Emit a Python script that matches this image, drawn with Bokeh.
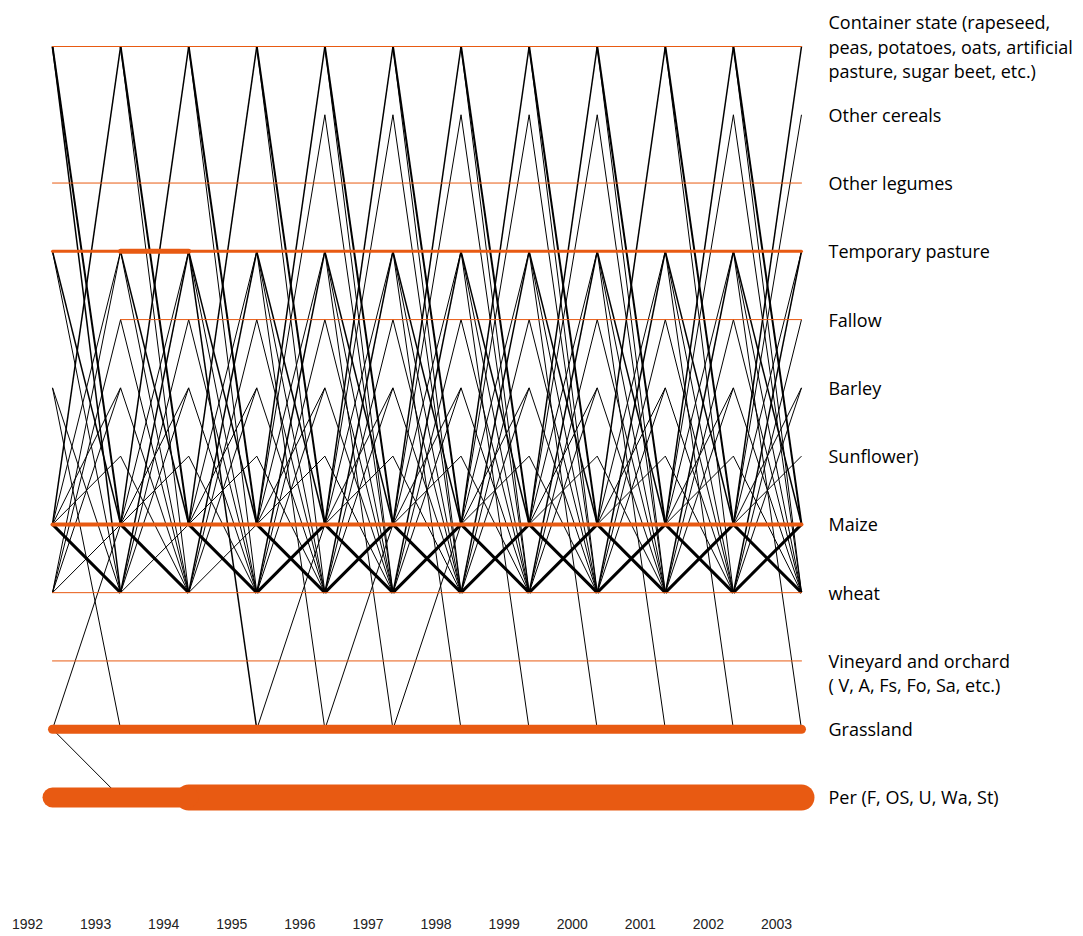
from bokeh.plotting import figure
from bokeh.models import Range1d, ColumnDataSource
from bokeh.core.properties import value
from bokeh.embed import file_html
from bokeh.resources import INLINE

# ---------------- data ----------------
years = [1992, 1993, 1994, 1995, 1996, 1997, 1998, 1999, 2000, 2001, 2002, 2003]
year_labels = ["1992", "1993", "1994", "1995", "1996", "1997", "1998", "1999",
               "2000", "2001", "2002", "2003"]

# land-use states, bottom (0) to top (11)
codes = ["PER", "GRA", "VIN", "WHE", "MAI", "SUN", "BAR", "FAL", "TPA", "OLE", "OCE", "CON"]
cat_labels = [
    "Per (F, OS, U, Wa, St)",
    "Grassland",
    "Vineyard and orchard\n( V, A, Fs, Fo, Sa, etc.)",
    "wheat",
    "Maize",
    "Sunflower)",
    "Barley",
    "Fallow",
    "Temporary pasture",
    "Other legumes",
    "Other cereals",
    "Container state (rapeseed,\npeas, potatoes, oats, artificial\npasture, sugar beet, etc.)",
]
label_anchor = [0, 0, 0, 0, 0, 0, 0, 0, 0, 0, 0, 1]

# persistence (same state from year to next year), line width per interval
stay_PER = [20, 20, 26, 26, 26, 26, 26, 26, 26, 26, 26]
stay_GRA = [9, 9, 9, 9, 9, 9, 9, 9, 9, 9, 9]
stay_VIN = [1, 1, 1, 1, 1, 1, 1, 1, 1, 1, 1]
stay_WHE = [1, 1, 1, 1, 1, 1, 1, 1, 1, 1, 1]
stay_MAI = [4, 4, 4, 4, 4, 4, 4, 4, 4, 4, 4]
stay_SUN = [0, 0, 0, 0, 0, 0, 0, 0, 0, 0, 0]
stay_BAR = [0, 0, 0, 0, 0, 0, 0, 0, 0, 0, 0]
stay_FAL = [0, 1, 1, 1, 1, 1, 1, 1, 1, 1, 1]
stay_TPA = [3, 5, 3, 3, 3, 3, 3, 3, 3, 3, 3]
stay_OLE = [1, 1, 1, 1, 1, 1, 1, 1, 1, 1, 1]
stay_OCE = [0, 0, 0, 0, 0, 0, 0, 0, 0, 0, 0]
stay_CON = [1, 1, 1, 1, 1, 1, 1, 1, 1, 1, 1]

# transitions between states: (from state, to state, line width)
flows_1992 = [("CON", "MAI", 2), ("CON", "WHE", 1.5), ("MAI", "CON", 1.5),
              ("TPA", "MAI", 1.5), ("TPA", "WHE", 1), ("MAI", "TPA", 1), ("WHE", "TPA", 1),
              ("WHE", "FAL", 1), ("BAR", "WHE", 1), ("BAR", "GRA", 1),
              ("MAI", "BAR", 1), ("WHE", "BAR", 1), ("MAI", "SUN", 1),
              ("MAI", "WHE", 3), ("WHE", "MAI", 1), ("GRA", "MAI", 1), ("GRA", "PER", 1)]
flows_1993 = [("CON", "MAI", 2), ("CON", "WHE", 1), ("MAI", "CON", 1.5),
              ("TPA", "MAI", 1.5), ("TPA", "WHE", 1), ("MAI", "TPA", 1), ("WHE", "TPA", 1.5),
              ("FAL", "WHE", 1), ("WHE", "FAL", 1),
              ("BAR", "WHE", 1), ("MAI", "BAR", 1), ("WHE", "BAR", 1),
              ("SUN", "WHE", 1), ("MAI", "SUN", 1), ("MAI", "WHE", 3), ("WHE", "MAI", 1)]
flows_1994 = [("CON", "MAI", 2), ("CON", "WHE", 1), ("MAI", "CON", 1.5),
              ("TPA", "MAI", 1.5), ("TPA", "WHE", 1), ("MAI", "TPA", 1), ("WHE", "TPA", 1.5),
              ("FAL", "WHE", 1), ("WHE", "FAL", 1),
              ("BAR", "WHE", 1), ("MAI", "BAR", 1), ("WHE", "BAR", 1),
              ("SUN", "WHE", 1), ("MAI", "SUN", 1), ("MAI", "WHE", 3), ("WHE", "MAI", 1),
              ("TPA", "GRA", 1.5)]
flows_1995 = [("CON", "MAI", 2), ("CON", "WHE", 1), ("MAI", "CON", 1.5),
              ("TPA", "MAI", 1.5), ("TPA", "WHE", 1), ("MAI", "TPA", 1), ("WHE", "TPA", 1.5),
              ("FAL", "WHE", 1), ("WHE", "FAL", 1),
              ("BAR", "WHE", 1), ("MAI", "BAR", 1), ("WHE", "BAR", 1),
              ("SUN", "WHE", 1), ("MAI", "SUN", 1), ("MAI", "WHE", 3), ("WHE", "MAI", 3),
              ("TPA", "GRA", 1), ("GRA", "MAI", 1), ("MAI", "OCE", 1)]
flows_1996 = [("CON", "MAI", 2), ("CON", "WHE", 1), ("MAI", "CON", 1.5),
              ("TPA", "MAI", 1.5), ("TPA", "WHE", 1), ("MAI", "TPA", 1), ("WHE", "TPA", 1.5),
              ("FAL", "WHE", 1), ("WHE", "FAL", 1),
              ("BAR", "WHE", 1), ("MAI", "BAR", 1), ("WHE", "BAR", 1),
              ("SUN", "WHE", 1), ("MAI", "SUN", 1), ("MAI", "WHE", 3), ("WHE", "MAI", 3),
              ("TPA", "GRA", 1), ("GRA", "MAI", 1), ("MAI", "OCE", 1), ("OCE", "WHE", 1)]
flows_1997 = [("CON", "MAI", 2), ("CON", "WHE", 1), ("MAI", "CON", 1.5),
              ("TPA", "MAI", 1.5), ("TPA", "WHE", 1), ("MAI", "TPA", 1), ("WHE", "TPA", 1.5),
              ("FAL", "WHE", 1), ("WHE", "FAL", 1),
              ("BAR", "WHE", 1), ("MAI", "BAR", 1), ("WHE", "BAR", 1),
              ("SUN", "WHE", 1), ("MAI", "SUN", 1), ("MAI", "WHE", 3), ("WHE", "MAI", 3),
              ("TPA", "GRA", 1), ("GRA", "MAI", 1), ("MAI", "OCE", 1), ("OCE", "WHE", 1)]
flows_1998 = [("CON", "MAI", 2), ("CON", "WHE", 1), ("MAI", "CON", 1.5),
              ("TPA", "MAI", 1.5), ("TPA", "WHE", 1), ("MAI", "TPA", 1), ("WHE", "TPA", 1.5),
              ("FAL", "WHE", 1), ("WHE", "FAL", 1),
              ("BAR", "WHE", 1), ("MAI", "BAR", 1), ("WHE", "BAR", 1),
              ("SUN", "WHE", 1), ("MAI", "SUN", 1), ("MAI", "WHE", 3), ("WHE", "MAI", 3),
              ("TPA", "GRA", 1), ("MAI", "OCE", 1), ("OCE", "WHE", 1)]
flows_1999 = [("CON", "MAI", 2), ("CON", "WHE", 1), ("MAI", "CON", 1.5),
              ("TPA", "MAI", 1.5), ("TPA", "WHE", 1), ("MAI", "TPA", 1), ("WHE", "TPA", 1.5),
              ("FAL", "WHE", 1), ("WHE", "FAL", 1),
              ("BAR", "WHE", 1), ("MAI", "BAR", 1), ("WHE", "BAR", 1),
              ("SUN", "WHE", 1), ("MAI", "SUN", 1), ("MAI", "WHE", 3), ("WHE", "MAI", 3),
              ("TPA", "GRA", 1), ("MAI", "OCE", 1), ("OCE", "WHE", 1)]
flows_2000 = [("CON", "MAI", 2), ("CON", "WHE", 1), ("MAI", "CON", 1.5),
              ("TPA", "MAI", 1.5), ("TPA", "WHE", 1), ("MAI", "TPA", 1), ("WHE", "TPA", 1.5),
              ("FAL", "WHE", 1), ("WHE", "FAL", 1),
              ("BAR", "WHE", 1), ("MAI", "BAR", 1), ("WHE", "BAR", 1),
              ("SUN", "WHE", 1), ("MAI", "SUN", 1), ("MAI", "WHE", 3), ("WHE", "MAI", 3),
              ("TPA", "GRA", 1), ("OCE", "WHE", 1)]
flows_2001 = [("CON", "MAI", 2), ("CON", "WHE", 1), ("MAI", "CON", 1.5),
              ("TPA", "MAI", 1.5), ("TPA", "WHE", 1), ("MAI", "TPA", 1), ("WHE", "TPA", 1.5),
              ("FAL", "WHE", 1), ("WHE", "FAL", 1),
              ("BAR", "WHE", 1), ("MAI", "BAR", 1), ("WHE", "BAR", 1),
              ("SUN", "WHE", 1), ("MAI", "SUN", 1), ("MAI", "WHE", 3), ("WHE", "MAI", 3),
              ("TPA", "GRA", 1), ("MAI", "OCE", 1)]
flows_2002 = [("CON", "MAI", 2), ("CON", "WHE", 1), ("MAI", "CON", 1.5),
              ("TPA", "MAI", 1.5), ("TPA", "WHE", 1), ("MAI", "TPA", 1), ("WHE", "TPA", 1.5),
              ("FAL", "WHE", 1), ("WHE", "FAL", 1),
              ("BAR", "WHE", 1), ("MAI", "BAR", 1), ("WHE", "BAR", 1),
              ("SUN", "WHE", 1), ("MAI", "SUN", 1), ("MAI", "WHE", 3), ("WHE", "MAI", 3),
              ("TPA", "GRA", 1), ("MAI", "OCE", 1), ("OCE", "WHE", 1)]

# ---------------- build sources ----------------
level = {c: i for i, c in enumerate(codes)}
stays = {"PER": stay_PER, "GRA": stay_GRA, "VIN": stay_VIN, "WHE": stay_WHE,
         "MAI": stay_MAI, "SUN": stay_SUN, "BAR": stay_BAR, "FAL": stay_FAL,
         "TPA": stay_TPA, "OLE": stay_OLE, "OCE": stay_OCE, "CON": stay_CON}
all_flows = [flows_1992, flows_1993, flows_1994, flows_1995, flows_1996, flows_1997,
             flows_1998, flows_1999, flows_2000, flows_2001, flows_2002]

# merge consecutive intervals of equal width into one run (no joints between segments)
st = dict(x0=[], y0=[], x1=[], y1=[], w=[])
for c in codes:
    ws = stays[c]
    i = 0
    while i < len(ws):
        if ws[i] <= 0:
            i += 1
            continue
        j = i
        while j + 1 < len(ws) and ws[j + 1] == ws[i]:
            j += 1
        st["x0"].append(years[i]); st["x1"].append(years[j + 1])
        st["y0"].append(level[c]); st["y1"].append(level[c]); st["w"].append(ws[i])
        i = j + 1
order = sorted(range(len(st["w"])), key=lambda k: -st["w"][k])
st = {k: [v[o] for o in order] for k, v in st.items()}

fl = dict(x0=[], y0=[], x1=[], y1=[], w=[])
for i, flows in enumerate(all_flows):
    for a, b, w in sorted(flows, key=lambda t: t[2]):
        fl["x0"].append(years[i]); fl["x1"].append(years[i + 1])
        fl["y0"].append(level[a]); fl["y1"].append(level[b]); fl["w"].append(w)

# ---------------- figure ----------------
W, H = 1075, 936
px_per_year = 68.09
px_per_level = 68.27
x_start = 1992 - 52 / px_per_year
y_top = 11 + 46 / px_per_level
x_range = Range1d(x_start, x_start + W / px_per_year)
y_range = Range1d(y_top - H / px_per_level, y_top)

p = figure(width=W, height=H, x_range=x_range, y_range=y_range,
           output_backend="svg", toolbar_location=None, min_border=0)
p.xaxis.visible = False
p.yaxis.visible = False
p.grid.visible = False
p.outline_line_color = None
p.background_fill_color = "white"
p.border_fill_color = "white"

p.segment("x0", "y0", "x1", "y1", source=ColumnDataSource(fl),
          line_color="black", line_width="w", line_cap="butt")
p.segment("x0", "y0", "x1", "y1", source=ColumnDataSource(st),
          line_color="#E85A12", line_width="w", line_cap="round")

# category labels on the right
lab = dict(x=[], y=[], t=[])
dy = 24.5 / px_per_level
for i, txt in enumerate(cat_labels):
    for j, line in enumerate(txt.split("\n")):
        lab["x"].append(years[-1] + (828 - 801) / px_per_year)
        lab["y"].append(i - (j - label_anchor[i]) * dy)
        lab["t"].append(line)
p.text("x", "y", text="t", source=ColumnDataSource(lab),
       text_font=value("Open Sans"), text_font_size="18px", text_color="black",
       text_align="left", text_baseline="middle")

# year labels at the bottom
yl = dict(x=[yr - 25 / px_per_year for yr in years],
          y=[-(924 - 797) / px_per_level] * len(years), t=year_labels)
p.text("x", "y", text="t", source=ColumnDataSource(yl),
       text_font=value("Liberation Sans"), text_font_size="14px", text_color="#222222",
       text_align="center", text_baseline="middle")

open("out.html", "w").write(file_html(p, INLINE))
